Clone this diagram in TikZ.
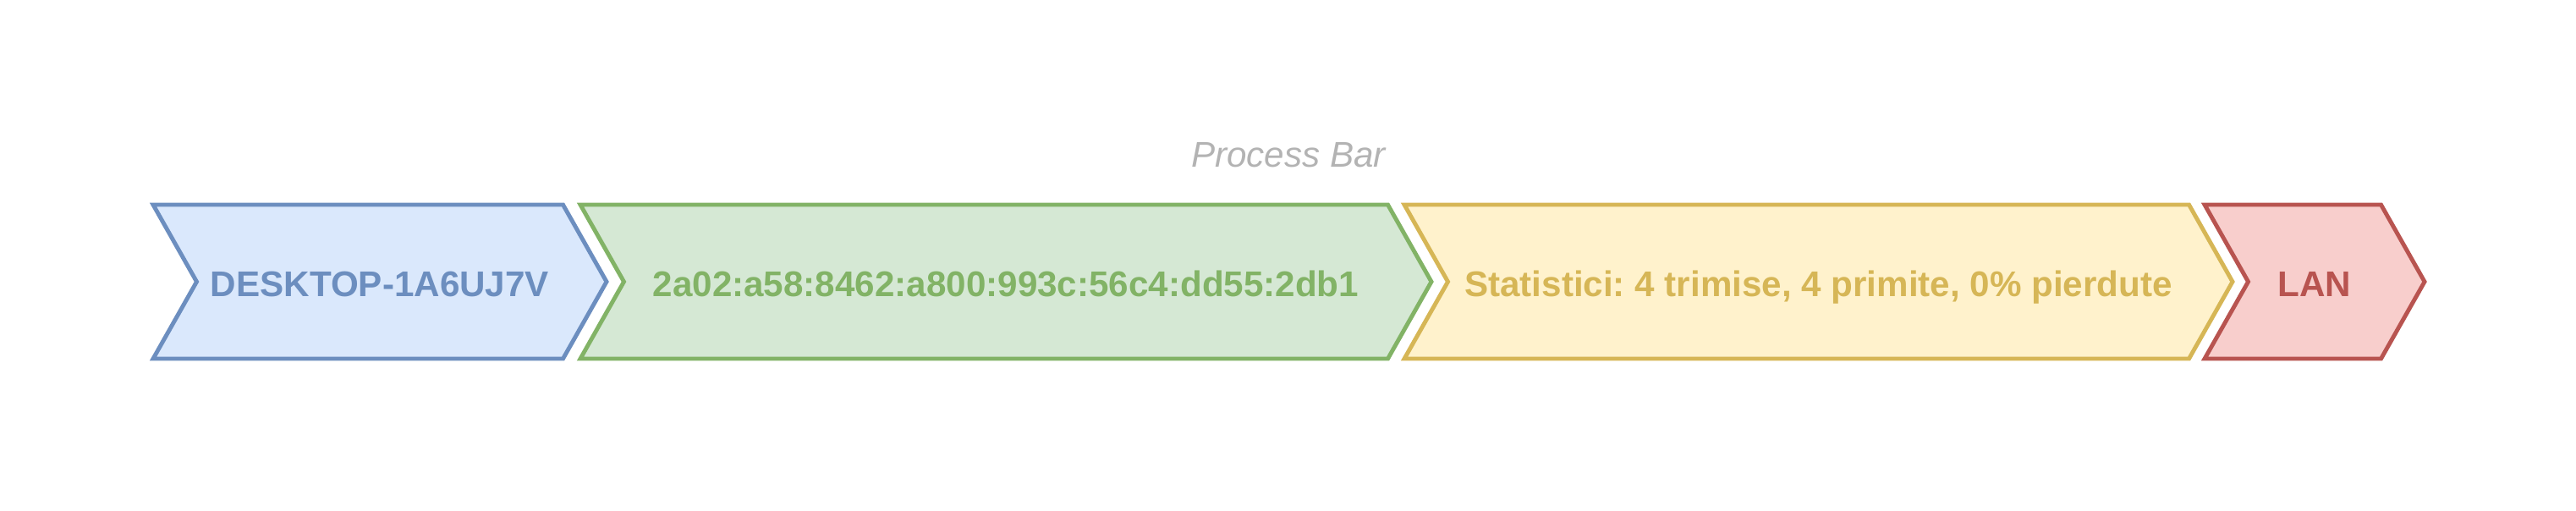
\documentclass[tikz,border=0pt]{standalone}
\usepackage{fontspec}
\setmainfont{Liberation Sans}
\usepackage{tikz}
\usetikzlibrary{positioning,shapes.symbols}
\frenchspacing
\definecolor{blueFill}{HTML}{DAE8FC}
\definecolor{blueLine}{HTML}{6C8EBF}
\definecolor{greenFill}{HTML}{D5E8D4}
\definecolor{greenLine}{HTML}{82B366}
\definecolor{yellowFill}{HTML}{FFF2CC}
\definecolor{yellowLine}{HTML}{D6B656}
\definecolor{redFill}{HTML}{F8CECC}
\definecolor{redLine}{HTML}{B85450}
\definecolor{titleGray}{HTML}{B3B3B3}
\tikzset{
	stage/.style={
		shape=signal,
		signal from=west,
		signal to=east,
		signal pointer angle=121,
		minimum height=1.82cm,
		inner sep=0pt,
		text height=10pt,
		text depth=0pt,
		line width=1.4pt,
		font=\fontsize{12pt}{14pt}\selectfont\bfseries
	},
	stagecol/.style={fill=#1Fill, draw=#1Line, text=#1Line}
}

\begin{document}
\begin{tikzpicture}
			\useasboundingbox (0,0) rectangle (30.45,6.03);
			\node [stage, stagecol=blue, minimum width=5.36cm] (host) at (4.49,2.70) {DESKTOP-1A6UJ7V};
			\node [stage, stagecol=green, minimum width=10.06cm] (addr) at (11.89,2.70) {2a02:a58:8462:a800:993c:56c4:dd55:2db1};
			\node [stage, stagecol=yellow, minimum width=9.79cm] (stats) at (21.495,2.70) {Statistici: 4 trimise, 4 primite, 0\% pierdute};
			\node [stage, stagecol=red, minimum width=2.60cm] (net) at (27.36,2.70) {LAN};
			\node [inner sep=0pt, text height=8.6pt, text depth=0pt, text=titleGray, font=\fontsize{12pt}{14pt}\selectfont\itshape] (title) at (15.23,4.21) {Process Bar};
		\end{tikzpicture}
\end{document}
